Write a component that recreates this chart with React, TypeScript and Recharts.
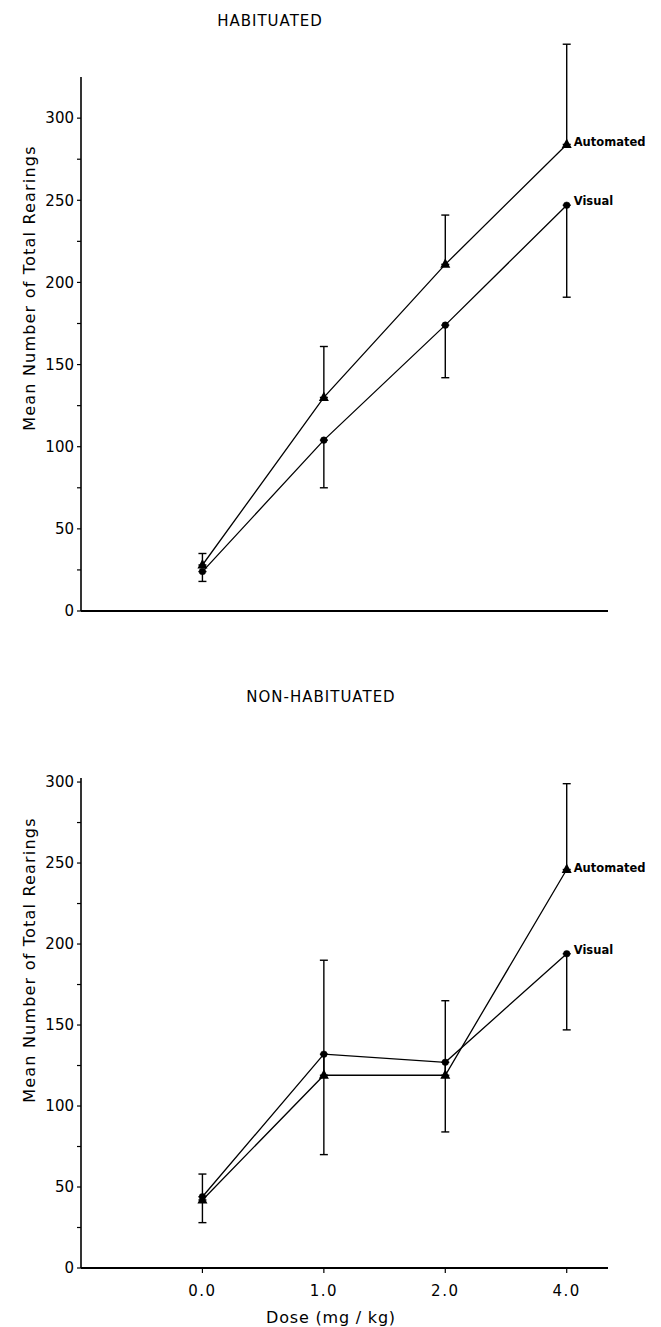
import {
  LineChart,
  Line,
  XAxis,
  YAxis,
  ErrorBar,
  ReferenceLine,
  LabelList,
} from "recharts";

const FONT = "'DejaVu Sans', sans-serif";

const doseLabels = ["0.0", "1.0", "2.0", "4.0"];
const dosePositions = [0, 1, 2, 3];
const yTicks = [0, 25, 50, 75, 100, 125, 150, 175, 200, 225, 250, 275, 300];

// habituated panel
const habAutomated = [28, 130, 211, 284];
const habVisual = [24, 104, 174, 247];
const habAutomatedUpper = [35, 161, 241, 345];
const habVisualLower = [18, 75, 142, 191];

// non-habituated panel
const nonAutomated = [42, 119, 119, 246];
const nonVisual = [44, 132, 127, 194];
const nonAutomatedUpper = [58, 190, 165, 299];
const nonVisualLower = [28, 70, 84, 147];

function buildRows(auto: number[], vis: number[], autoUp: number[], visLow: number[]) {
  return dosePositions.map((x, i) => ({
    x,
    automated: auto[i],
    visual: vis[i],
    autoErr: [0, autoUp[i] - auto[i]],
    visErr: [vis[i] - visLow[i], 0],
  }));
}

const Triangle = (props: any) => {
  const { cx, cy, index } = props;
  if (cx == null || cy == null) return <g key={index} />;
  return (
    <polygon
      key={index}
      points={`${cx},${cy - 6} ${cx - 5},${cy + 3.5} ${cx + 5},${cy + 3.5}`}
      fill="#000"
    />
  );
};

const endLabel = (text: string, dy: number) => (props: any) => {
  const { index } = props;
  if (index !== dosePositions.length - 1) return null;
  const x = props.x ?? props.viewBox?.x;
  const y = props.y ?? props.viewBox?.y;
  return (
    <text
      x={x + 7}
      y={y + dy}
      fontFamily={FONT}
      fontSize={11.5}
      fontWeight="bold"
      fill="#000"
    >
      {text}
    </text>
  );
};

interface PanelProps {
  rows: ReturnType<typeof buildRows>;
  height: number;
  marginTop: number;
  xAxisHeight: number;
  yMax: number;
  axisTop: number;
  yLabelY: number;
  showDose: boolean;
}

function Panel({ rows, height, marginTop, xAxisHeight, yMax, axisTop, yLabelY, showDose }: PanelProps) {
  return (
    <LineChart
      width={661}
      height={height}
      data={rows}
      margin={{ top: marginTop, right: 53, bottom: 5, left: 10 }}
    >
      <XAxis
        dataKey="x"
        type="number"
        domain={[-1, 3.34]}
        ticks={dosePositions}
        tickFormatter={(v: number) => doseLabels[v]}
        tick={showDose ? { fill: "#000", fontSize: 15, fontFamily: FONT, letterSpacing: 1.5 } : false}
        tickLine={{ stroke: "#000", strokeWidth: 1.2 }}
        tickSize={5}
        tickMargin={12}
        axisLine={{ stroke: "#000", strokeWidth: 2 }}
        height={xAxisHeight}
        label={
          showDose
            ? {
                content: () => (
                  <text
                    x={331}
                    y={height - 4}
                    textAnchor="middle"
                    fontFamily={FONT}
                    fontSize={16}
                    letterSpacing={0.8}
                    fill="#000"
                  >
                    Dose (mg / kg)
                  </text>
                ),
              }
            : undefined
        }
      />
      <YAxis
        type="number"
        domain={[0, yMax]}
        ticks={yTicks}
        tickFormatter={(v: number) => (v % 50 === 0 ? String(v) : "")}
        tick={{ fill: "#000", fontSize: 15, fontFamily: FONT }}
        tickLine={{ stroke: "#000", strokeWidth: 1.2 }}
        tickSize={4}
        tickMargin={3}
        axisLine={false}
        width={71}
        label={{
          content: () => (
            <text
              x={29}
              y={yLabelY}
              transform={`rotate(-90, 29, ${yLabelY})`}
              textAnchor="middle"
              dominantBaseline="central"
              fontFamily={FONT}
              fontSize={16}
              letterSpacing={1.2}
              fill="#000"
            >
              Mean Number of Total Rearings
            </text>
          ),
        }}
      />
      <ReferenceLine
        segment={[
          { x: -1, y: 0 },
          { x: -1, y: axisTop },
        ]}
        stroke="#000"
        strokeWidth={1.6}
        ifOverflow="visible"
      />
      <Line
        dataKey="automated"
        type="linear"
        stroke="#000"
        strokeWidth={1.3}
        dot={Triangle}
        activeDot={false}
        isAnimationActive={false}
      >
        <ErrorBar dataKey="autoErr" direction="y" width={4} stroke="#000" strokeWidth={1.4} />
        <LabelList dataKey="automated" content={endLabel("Automated", 2)} />
      </Line>
      <Line
        dataKey="visual"
        type="linear"
        stroke="#000"
        strokeWidth={1.3}
        dot={{ r: 3.3, fill: "#000", stroke: "#000", strokeWidth: 0.5 }}
        activeDot={false}
        isAnimationActive={false}
      >
        <ErrorBar dataKey="visErr" direction="y" width={4} stroke="#000" strokeWidth={1.4} />
        <LabelList dataKey="visual" content={endLabel("Visual", 0)} />
      </Line>
    </LineChart>
  );
}

const titleStyle = (cx: number, cy: number): React.CSSProperties => ({
  position: "absolute",
  left: cx - 150,
  top: cy - 10,
  width: 300,
  height: 20,
  lineHeight: "20px",
  textAlign: "center",
  fontFamily: FONT,
  fontSize: 15,
  letterSpacing: 1,
  color: "#000",
});

export default function App() {
  const habRows = buildRows(habAutomated, habVisual, habAutomatedUpper, habVisualLower);
  const nonRows = buildRows(nonAutomated, nonVisual, nonAutomatedUpper, nonVisualLower);

  return (
    <div
      style={{
        position: "absolute",
        left: 0,
        top: 0,
        width: 661,
        height: 1327,
        background: "#fff",
        overflow: "hidden",
      }}
    >
      <div style={titleStyle(270, 21)}>HABITUATED</div>
      <div style={{ position: "absolute", left: 0, top: 0 }}>
        <Panel
          rows={habRows}
          height={640}
          marginTop={36}
          xAxisHeight={24}
          yMax={350}
          axisTop={325}
          yLabelY={288}
          showDose={false}
        />
      </div>
      <div style={titleStyle(321, 697)}>NON-HABITUATED</div>
      <div style={{ position: "absolute", left: 0, top: 660 }}>
        <Panel
          rows={nonRows}
          height={667}
          marginTop={118}
          xAxisHeight={54}
          yMax={302.5}
          axisTop={302.5}
          yLabelY={300}
          showDose={true}
        />
      </div>
    </div>
  );
}
